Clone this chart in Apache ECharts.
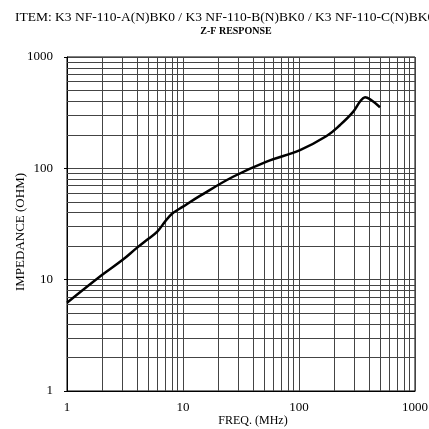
<!DOCTYPE html>
<html><head><meta charset="utf-8">
<script src="https://cdn.jsdelivr.net/npm/echarts@6/dist/echarts.min.js"></script>
<style>html,body{margin:0;padding:0;background:#fff}#c{width:429px;height:429px}</style>
</head><body><div id="c"></div>
<script>
var titleText = 'ITEM: K3 NF-110-A(N)BK0 / K3 NF-110-B(N)BK0 / K3 NF-110-C(N)BK0';
var subTitle = 'Z-F RESPONSE';
var xName = 'FREQ. (MHz)';
var yName = 'IMPEDANCE (OHM)';
var freq = [1, 2, 3, 4, 5, 6, 7, 8, 10, 14, 27, 52.6, 102, 173, 226, 294, 336, 371, 410, 499];
var impedance = [6.2, 11.0, 15, 19.3, 23.2, 27, 33.2, 38.9, 45.3, 56.5, 84, 115, 146, 195, 245, 323, 398, 436, 417, 354];
var minorGridValues = [2,3,4,5,6,7,8,9,20,30,40,50,60,70,80,90,200,300,400,500,600,700,800,900];
var serif = '"Liberation Serif", "DejaVu Serif", serif';

var chart = echarts.init(document.getElementById('c'), null, {renderer: 'canvas'});
var gridColor = '#444';
function plain(v) { return String(v); }
chart.setOption({
  animation: false,
  backgroundColor: '#fff',
  title: [
    {text: titleText, left: 15, top: 10, padding: 0, textStyle: {fontFamily: serif, fontSize: 13.5, fontWeight: 'normal', color: '#000'}},
    {text: subTitle, left: 236, top: 26, padding: 0, textAlign: 'center', textStyle: {fontFamily: serif, fontSize: 10, fontWeight: 'bold', color: '#000'}}
  ],
  grid: {left: 67, right: 14, top: 57, bottom: 38, outerBoundsMode: 'none', containLabel: false, show: true, borderColor: '#000', borderWidth: 1, backgroundColor: 'transparent'},
  xAxis: {
    type: 'log', logBase: 10, min: 1, max: 1000,
    name: xName, nameLocation: 'middle', nameGap: 24, nameMoveOverlap: false,
    nameTextStyle: {fontFamily: serif, fontSize: 12, color: '#000', padding: [0, 0, 0, 24]},
    axisLine: {show: true, lineStyle: {color: '#000', width: 1}},
    axisTick: {show: false},
    axisLabel: {fontFamily: serif, fontSize: 13, color: '#000', margin: 10, formatter: plain},
    splitLine: {show: true, lineStyle: {color: gridColor, width: 1}}
  },
  yAxis: {
    type: 'log', logBase: 10, min: 1, max: 1000,
    name: yName, nameLocation: 'middle', nameGap: 40, nameMoveOverlap: false,
    nameTextStyle: {fontFamily: serif, fontSize: 13, color: '#000', padding: [0, 0, 0, -16]},
    axisLine: {show: true, lineStyle: {color: '#000', width: 1}},
    axisTick: {show: true, length: 3, lineStyle: {color: '#000'}},
    axisLabel: {fontFamily: serif, fontSize: 13, color: '#000', margin: 14, formatter: plain},
    splitLine: {show: true, lineStyle: {color: gridColor, width: 1}}
  },
  series: [
    {
      type: 'line', data: [], silent: true,
      markLine: {
        silent: true, symbol: 'none', label: {show: false}, animation: false,
        lineStyle: {color: gridColor, width: 1, type: 'solid'},
        data: minorGridValues.map(function (v) { return {xAxis: v}; })
          .concat(minorGridValues.map(function (v) { return {yAxis: v}; }))
      }
    },
    {
      type: 'line', smooth: 0.4, showSymbol: false, symbol: 'none',
      lineStyle: {color: '#000', width: 2.5},
      data: freq.map(function (f, i) { return [f, impedance[i]]; }),
      z: 5
    }
  ]
});
</script></body></html>
